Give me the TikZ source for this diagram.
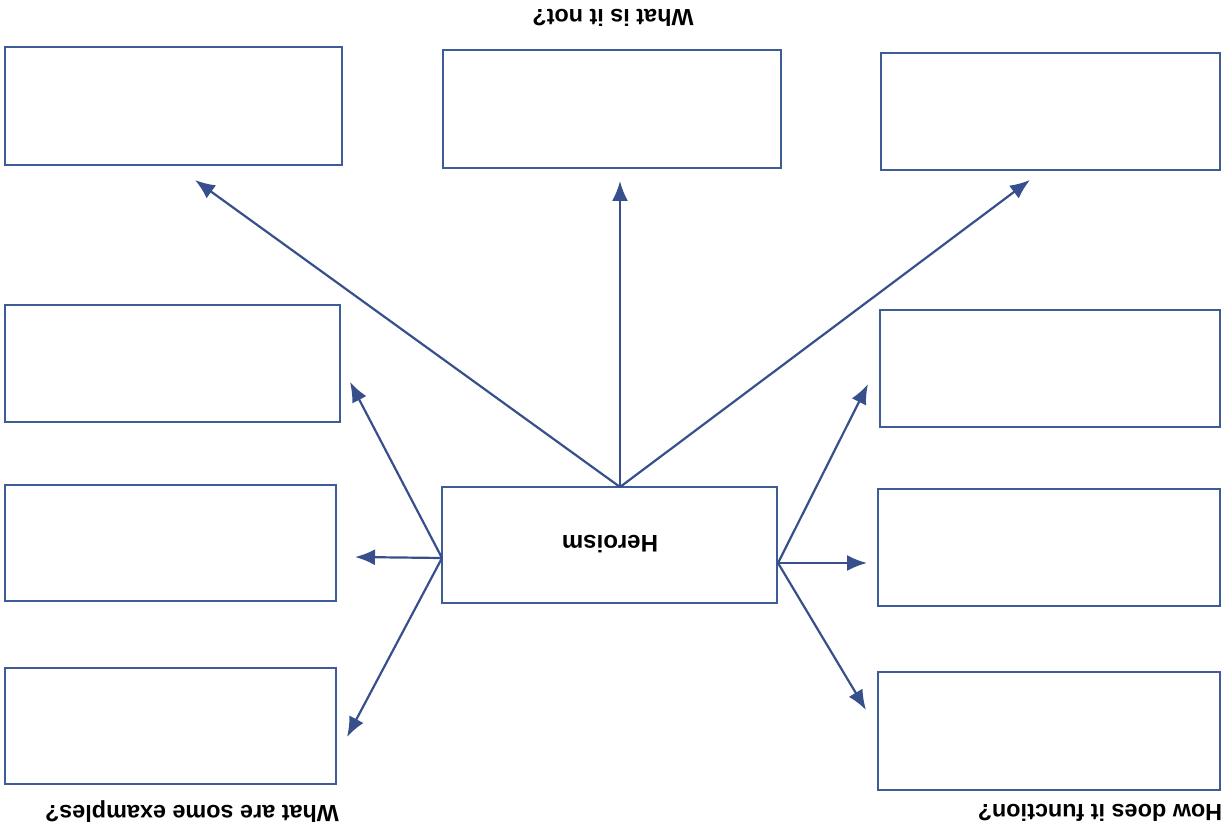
\documentclass[tikz,border=0pt]{standalone}
\usepackage{fontspec}
\setmainfont{Liberation Sans}
\usetikzlibrary{arrows.meta}
\definecolor{boxblue}{RGB}{62,92,150}
\definecolor{arrowblue}{RGB}{55,80,140}
\begin{document}
\begin{tikzpicture}[x=0.5pt,y=-0.5pt,
  answer/.style={draw=boxblue,line width=1.2pt,fill=white,inner sep=0pt,minimum width=#1*0.5pt},
  answer/.default=336,
  link/.style={draw=arrowblue,line width=1.1pt,-{Latex[length=10pt,width=8pt]}},
  caption/.style={font=\bfseries\fontsize{11.7}{14}\selectfont,rotate=180,inner sep=0pt}]
\useasboundingbox (0,0) rectangle (1225,838);
% top row
\node[answer=337,minimum height=59pt] (tl) at (173.5,106) {};
\node[answer=338,minimum height=59pt] (tm) at (612,109) {};
\node[answer=339,minimum height=58.5pt] (tr) at (1050.5,111.5) {};
% left column
\node[answer=335,minimum height=58.5pt] (l1) at (172.5,363.5) {};
\node[answer=331,minimum height=58pt] (l2) at (170.5,543) {};
\node[answer=331,minimum height=58pt] (l3) at (170.5,726) {};
% right column
\node[answer=340,minimum height=58.5pt] (r1) at (1050,368.5) {};
\node[answer=342,minimum height=58.5pt] (r2) at (1049,547.5) {};
\node[answer=342,minimum height=59pt] (r3) at (1049,731) {};
% centre
\node[answer=335,minimum height=58pt] (c) at (609.5,545) {};
\node[font=\bfseries\fontsize{12}{14}\selectfont,rotate=180] (ctext) at (610,544) {Heroism};
% captions
\node[caption] (q1) at (613,18) {What is it not?};
\node[caption] (q2) at (192,812) {What are some examples?};
\node[caption] (q3) at (1100,813) {How does it function?};
% connector anchors
\coordinate (ct) at (620,487);
\coordinate (cl) at (442,558);
\coordinate (cr) at (778,563);
\coordinate (atl) at (195,180);
\coordinate (atm) at (620,181);
\coordinate (atr) at (1030,180);
\coordinate (al1) at (350,382);
\coordinate (al2) at (355,557);
\coordinate (al3) at (347,737);
\coordinate (ar1) at (868,384);
\coordinate (ar2) at (867,563);
\coordinate (ar3) at (866,710);
\draw[link] (ct) -- (atl);
\draw[link] (ct) -- (atm);
\draw[link] (ct) -- (atr);
\draw[link] (cl) -- (al1);
\draw[link] (cl) -- (al2);
\draw[link] (cl) -- (al3);
\draw[link] (cr) -- (ar1);
\draw[link] (cr) -- (ar2);
\draw[link] (cr) -- (ar3);
\end{tikzpicture}
\end{document}
